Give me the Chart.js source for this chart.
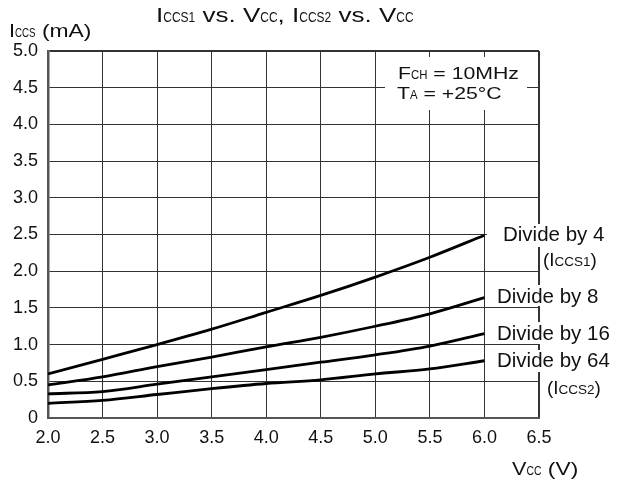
<!DOCTYPE html>
<html>
<head>
<meta charset="utf-8">
<script src="https://cdn.jsdelivr.net/npm/chart.js@4.4.1/dist/chart.umd.min.js"></script>
<style>
  html, body { margin: 0; padding: 0; background: #fff; }
  #wrap { width: 617px; height: 481px; }
</style>
</head>
<body>
<div id="wrap"><canvas id="chart" width="617" height="481"></canvas></div>
<script>
// Vcc (V) on the x axis
const vcc = [2.0, 2.5, 3.0, 3.5, 4.0, 4.5, 5.0, 5.5, 6.0];
// Iccs (mA)
const divBy4 = [0.60, 0.80, 1.00, 1.21, 1.44, 1.67, 1.92, 2.19, 2.49];
const divBy8 = [0.45, 0.56, 0.70, 0.83, 0.97, 1.10, 1.25, 1.42, 1.64];
const divBy16 = [0.33, 0.36, 0.46, 0.56, 0.66, 0.76, 0.86, 0.98, 1.15];
const divBy64 = [0.20, 0.24, 0.32, 0.40, 0.47, 0.52, 0.60, 0.67, 0.78];

const xMin = 2.0, xMax = 6.5, xStep = 0.5;
const yMin = 0, yMax = 5.0, yStep = 0.5;

const FONT = '"Liberation Sans", Arial, Helvetica, sans-serif';

function toPoints(ys) {
  return vcc.map((v, i) => ({ x: v, y: ys[i] }));
}

// draws text built of pieces [text, size, stretch] on one baseline
function drawRich(ctx, x, y, parts) {
  parts.forEach(([txt, size, sx]) => {
    ctx.font = size + 'px ' + FONT;
    const w = ctx.measureText(txt).width;
    ctx.save();
    ctx.translate(x, y);
    ctx.scale(sx, 1);
    ctx.fillText(txt, 0, 0);
    ctx.restore();
    x += w * sx;
  });
}

const textPlugin = {
  id: 'texts',
  afterDraw(chart) {
    const ctx = chart.ctx;
    ctx.save();
    ctx.textBaseline = 'alphabetic';
    ctx.textAlign = 'left';

    // white boxes behind labels
    ctx.fillStyle = '#fff';
    ctx.fillRect(385, 57, 142, 53);
    ctx.fillRect(487, 224, 130, 23);
    ctx.fillRect(490, 285, 127, 21);
    ctx.fillRect(490, 322, 127, 22);
    ctx.fillRect(490, 350, 127, 22);

    ctx.fillStyle = '#111';
    // title
    drawRich(ctx, 156, 22, [['I', 20, 1.3], ['CCS1', 15, 0.8], [' vs. V', 20, 1.3], ['CC', 15, 0.8],
      [', I', 20, 1.3], ['CCS2', 15, 0.8], [' vs. V', 20, 1.3], ['CC', 15, 0.8]]);
    // axis titles
    drawRich(ctx, 9, 37, [['I', 18, 1.2], ['CCS', 13, 0.75], [' (mA)', 18, 1.27]]);
    drawRich(ctx, 512, 475, [['V', 18, 1.2], ['CC', 13, 0.8], [' (V)', 18, 1.27]]);
    // condition box
    drawRich(ctx, 398, 79, [['F', 17, 1.25], ['CH', 12, 0.95], [' = 10MHz', 17, 1.25]]);
    drawRich(ctx, 397, 99, [['T', 17, 1.25], ['A', 12, 0.95], [' = +25\u00B0C', 17, 1.25]]);
    // curve labels
    drawRich(ctx, 503, 241, [['Divide by 4', 20.5, 1.0]]);
    drawRich(ctx, 543, 266, [['(I', 18, 1.05], ['CCS1', 13.5, 1.0], [')', 18, 1.05]]);
    drawRich(ctx, 497, 303, [['Divide by 8', 20.5, 1.0]]);
    drawRich(ctx, 497, 340, [['Divide by 16', 20.5, 1.0]]);
    drawRich(ctx, 497, 367, [['Divide by 64', 20.5, 1.0]]);
    drawRich(ctx, 547, 394, [['(I', 18, 1.05], ['CCS2', 13.5, 1.0], [')', 18, 1.05]]);
    ctx.restore();
  }
};

function lineSet(label, ys) {
  return {
    label: label,
    data: toPoints(ys),
    borderColor: '#000',
    borderWidth: 2.8,
    pointRadius: 0,
    fill: false,
    cubicInterpolationMode: 'monotone'
  };
}

new Chart(document.getElementById('chart').getContext('2d'), {
  type: 'line',
  data: {
    datasets: [
      lineSet('Divide by 4', divBy4),
      lineSet('Divide by 8', divBy8),
      lineSet('Divide by 16', divBy16),
      lineSet('Divide by 64', divBy64)
    ]
  },
  options: {
    responsive: false,
    animation: false,
    devicePixelRatio: 1,
    layout: { padding: { top: 51, right: 78, left: 0, bottom: 0 } },
    plugins: {
      legend: { display: false },
      tooltip: { enabled: false },
      title: { display: false }
    },
    scales: {
      x: {
        type: 'linear',
        min: xMin,
        max: xMax,
        afterFit: s => { s.height = 63; },
        ticks: {
          stepSize: xStep,
          padding: 9,
          color: '#111',
          font: { family: FONT, size: 18 },
          callback: v => v.toFixed(1)
        },
        grid: {
          color: '#333',
          lineWidth: c => (c.tick && c.tick.value === xMax ? 2 : 1),
          drawTicks: false
        },
        border: { color: '#555', width: 2 }
      },
      y: {
        min: yMin,
        max: yMax,
        afterFit: s => { s.width = 48; },
        ticks: {
          stepSize: yStep,
          padding: 10,
          color: '#111',
          font: { family: FONT, size: 18 },
          callback: v => (v === 0 ? '0' : v.toFixed(1))
        },
        grid: {
          color: '#333',
          lineWidth: c => (c.tick && c.tick.value === yMax ? 2 : 1),
          drawTicks: false
        },
        border: { color: '#555', width: 2.5 }
      }
    }
  },
  plugins: [textPlugin]
});
</script>
</body>
</html>
